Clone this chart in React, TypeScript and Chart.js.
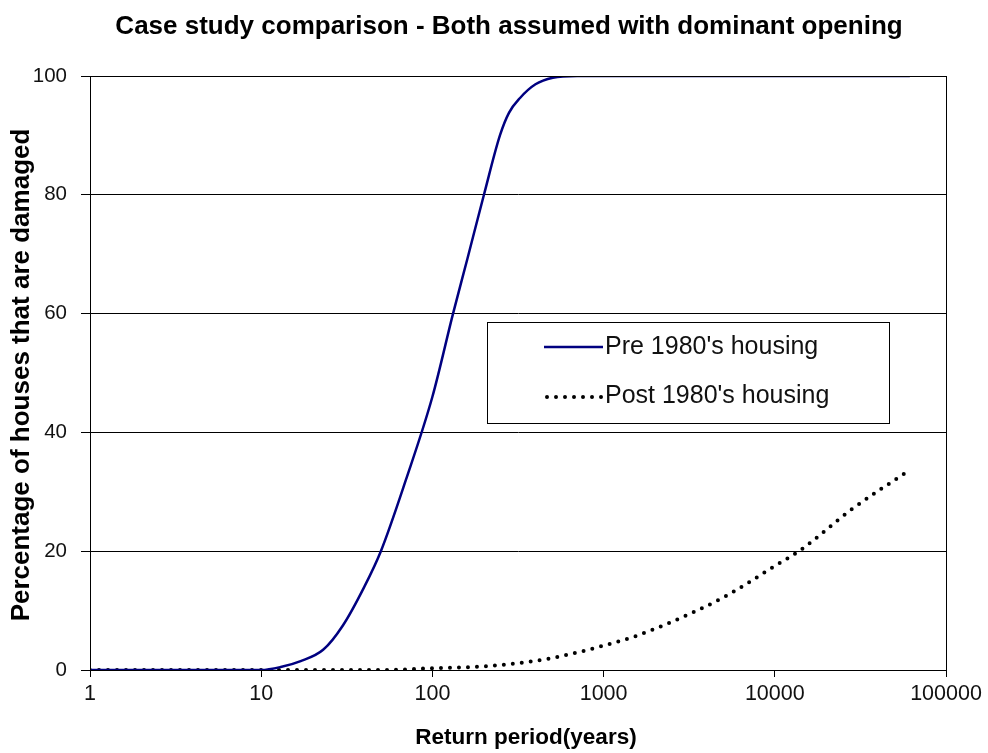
import React, { useEffect, useRef } from "react";
import { Chart, registerables } from "chart.js";

Chart.register(...registerables);

const chartTitle = "Case study comparison - Both assumed with dominant opening";
const xAxisTitle = "Return period(years)";
const yAxisTitle = "Percentage of houses that are damaged";
const xTickValues = [1, 10, 100, 1000, 10000, 100000];
const yTickValues = [0, 20, 40, 60, 80, 100];

const preLabel = "Pre 1980's housing";
const preX = [1, 5, 10, 13, 17, 23, 30, 40, 50, 70, 100, 132, 160, 200, 248, 280, 325, 400, 505, 700, 1000, 10000, 61500];
const preY = [0, 0, 0, 0.5, 1.5, 3.4, 7.5, 14, 20, 32, 46, 60, 69.2, 80, 90, 93.8, 96.3, 98.6, 99.7, 100, 100, 100, 100];

const postLabel = "Post 1980's housing";
const postX = [1, 10, 50, 100, 200, 350, 500, 1000, 1500, 2500, 5000, 7000, 10000, 14000, 28000, 61500];
const postY = [0, 0, 0, 0.3, 0.6, 1.3, 2.0, 4.1, 5.6, 8.1, 12.2, 14.7, 17.5, 20.1, 27, 33.7];

const FONT = "'Liberation Sans', Arial, sans-serif";

const overlayPlugin = {
  id: "overlay",
  afterDraw(chart: any) {
    const { ctx, chartArea } = chart;
    const { left, right, top, bottom } = chartArea;
    ctx.save();
    // plot border
    ctx.strokeStyle = "#000";
    ctx.lineWidth = 1;
    ctx.strokeRect(left + 0.5, top + 0.5, right - left, bottom - top);

    // title
    ctx.fillStyle = "#000";
    ctx.font = `bold 26px ${FONT}`;
    ctx.textAlign = "center";
    ctx.textBaseline = "middle";
    ctx.fillText(chartTitle, 509, 27);

    // x axis title
    ctx.font = `bold 22.5px ${FONT}`;
    ctx.fillText(xAxisTitle, 526, 738);

    // y axis title
    ctx.save();
    ctx.translate(22, 375);
    ctx.rotate(-Math.PI / 2);
    ctx.font = `bold 26px ${FONT}`;
    ctx.fillText(yAxisTitle, 0, 0);
    ctx.restore();

    // legend
    const bx = 487, by = 322, bw = 402, bh = 101;
    ctx.fillStyle = "#fff";
    ctx.fillRect(bx, by, bw, bh);
    ctx.strokeStyle = "#000";
    ctx.lineWidth = 1;
    ctx.strokeRect(bx + 0.5, by + 0.5, bw, bh);

    ctx.strokeStyle = "#000080";
    ctx.lineWidth = 2.5;
    ctx.beginPath();
    ctx.moveTo(544, 347);
    ctx.lineTo(603, 347);
    ctx.stroke();

    ctx.strokeStyle = "#000";
    ctx.lineWidth = 4;
    ctx.lineCap = "round";
    ctx.setLineDash([0, 9]);
    ctx.beginPath();
    ctx.moveTo(547, 397);
    ctx.lineTo(602, 397);
    ctx.stroke();
    ctx.setLineDash([]);

    ctx.fillStyle = "#111";
    ctx.font = `25px ${FONT}`;
    ctx.textAlign = "left";
    ctx.textBaseline = "middle";
    ctx.fillText(preLabel, 605, 347);
    ctx.fillText(postLabel, 605, 396);
    ctx.restore();
  },
};

export default function App() {
  const ref = useRef<HTMLCanvasElement | null>(null);

  useEffect(() => {
    document.body.style.margin = "0";
    const canvas = ref.current;
    if (!canvas) return;
    const chart = new Chart(canvas, {
      type: "line",
      data: {
        datasets: [
          {
            label: preLabel,
            data: preX.map((x, i) => ({ x, y: preY[i] })),
            borderColor: "#000080",
            borderWidth: 2.5,
            pointRadius: 0,
            cubicInterpolationMode: "monotone",
            fill: false,
          },
          {
            label: postLabel,
            data: postX.map((x, i) => ({ x, y: postY[i] })),
            borderColor: "#000",
            borderWidth: 4,
            borderDash: [0, 9],
            borderCapStyle: "round",
            pointRadius: 0,
            cubicInterpolationMode: "monotone",
            fill: false,
          },
        ],
      },
      options: {
        animation: false,
        responsive: false,
        maintainAspectRatio: false,
        layout: { padding: { left: 0, right: 42, top: 76, bottom: 0 } },
        plugins: {
          legend: { display: false },
          title: { display: false },
          tooltip: { enabled: false },
        },
        scales: {
          x: {
            type: "logarithmic",
            min: 1,
            max: 100000,
            afterBuildTicks: (scale: any) => {
              scale.ticks = xTickValues.map((v) => ({ value: v }));
            },
            afterFit: (scale: any) => {
              scale.height = 83;
            },
            ticks: {
              autoSkip: false,
              maxRotation: 0,
              padding: 4,
              color: "#111",
              font: { family: FONT, size: 21.5 },
              callback: (v: any) => String(v),
            },
            grid: {
              drawOnChartArea: false,
              drawTicks: true,
              tickLength: 7,
              color: "#000",
            },
            border: { display: true, color: "#000", width: 1 },
          },
          y: {
            type: "linear",
            min: 0,
            max: 100,
            afterBuildTicks: (scale: any) => {
              scale.ticks = yTickValues.map((v) => ({ value: v }));
            },
            afterFit: (scale: any) => {
              scale.width = 90;
            },
            ticks: {
              padding: 14,
              color: "#111",
              font: { family: FONT, size: 20.5 },
            },
            grid: {
              color: "#000",
              lineWidth: 1,
              drawTicks: true,
              tickLength: 9,
            },
            border: { display: true, color: "#000", width: 1 },
          },
        },
      },
      plugins: [overlayPlugin],
    });
    return () => chart.destroy();
  }, []);

  return (
    <div style={{ width: 988, height: 753, background: "#fff" }}>
      <canvas ref={ref} width={988} height={753} style={{ display: "block" }} />
    </div>
  );
}
